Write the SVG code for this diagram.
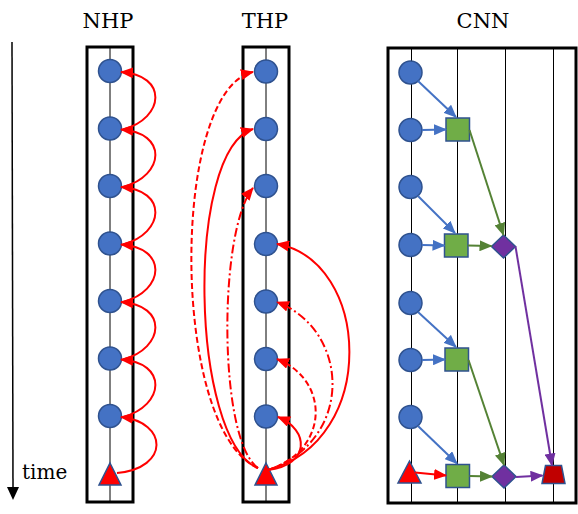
<svg xmlns="http://www.w3.org/2000/svg" width="578" height="514" viewBox="0 0 578 514">
<style>
.box{fill:none;stroke:#000;stroke-width:3}
.vl{stroke:#000;stroke-width:1;fill:none}
.node{fill:#4472C4;stroke:#2F528F;stroke-width:1.5}
.tri{fill:#FF0000;stroke:#2F528F;stroke-width:1.5}
.sq{fill:#70AD47;stroke:#2F528F;stroke-width:1.5}
.dia{fill:#7030A0;stroke:#2F528F;stroke-width:1.5}
.trap{fill:#C00000;stroke:#2F528F;stroke-width:1.5}
.r{fill:none;stroke:#FF0000;stroke-width:2;marker-end:url(#ar)}
.dash{stroke-dasharray:6,3}
.dd{stroke-dasharray:9,3,2,3}
.b{fill:none;stroke:#4472C4;stroke-width:2;marker-end:url(#ab)}
.g{fill:none;stroke:#548235;stroke-width:2;marker-end:url(#ag)}
.p{fill:none;stroke:#7030A0;stroke-width:2;marker-end:url(#ap)}
</style>
<defs>
<marker id="ar" markerUnits="userSpaceOnUse" markerWidth="13" markerHeight="11" viewBox="0 0 13 11" refX="12" refY="5.5" orient="auto"><path d="M0,0 L13,5.5 L0,11 z" fill="#FF0000"/></marker>
<marker id="ab" markerUnits="userSpaceOnUse" markerWidth="13" markerHeight="11" viewBox="0 0 13 11" refX="12" refY="5.5" orient="auto"><path d="M0,0 L13,5.5 L0,11 z" fill="#4472C4"/></marker>
<marker id="ag" markerUnits="userSpaceOnUse" markerWidth="13" markerHeight="11" viewBox="0 0 13 11" refX="12" refY="5.5" orient="auto"><path d="M0,0 L13,5.5 L0,11 z" fill="#548235"/></marker>
<marker id="ap" markerUnits="userSpaceOnUse" markerWidth="13" markerHeight="11" viewBox="0 0 13 11" refX="12" refY="5.5" orient="auto"><path d="M0,0 L13,5.5 L0,11 z" fill="#7030A0"/></marker>
</defs>

<g id="titles" font-family="'DejaVu Serif', 'Liberation Serif', serif" font-size="21" text-anchor="middle" fill="#000">
<text x="108" y="28">NHP</text>
<text x="265" y="28">THP</text>
<text x="483" y="28">CNN</text>
</g>

<g id="time-axis">
<line x1="12" y1="42" x2="13" y2="487" stroke="#000" stroke-width="1.5"/>
<path d="M7,487 L19,487 L13,500 z" fill="#000"/>
<text x="22" y="479" font-family="'DejaVu Serif', 'Liberation Serif', serif" font-size="20" fill="#000">time</text>
</g>

<g id="nhp">
<rect class="box" x="87" y="47" width="46" height="455"/>
<line class="vl" x1="110" y1="47" x2="110" y2="502"/>
<circle class="node" cx="110" cy="71" r="11.5"/>
<circle class="node" cx="110" cy="128.5" r="11.5"/>
<circle class="node" cx="110" cy="186" r="11.5"/>
<circle class="node" cx="110" cy="243.5" r="11.5"/>
<circle class="node" cx="110" cy="301" r="11.5"/>
<circle class="node" cx="110" cy="358.5" r="11.5"/>
<circle class="node" cx="110" cy="416" r="11.5"/>
<path class="tri" d="M110,463 L121,485 L99,485 z"/>
</g>

<g id="thp">
<rect class="box" x="243" y="47" width="46" height="455"/>
<line class="vl" x1="266" y1="47" x2="266" y2="502"/>
<circle class="node" cx="266" cy="71.5" r="11.5"/>
<circle class="node" cx="266" cy="129" r="11.5"/>
<circle class="node" cx="266" cy="186" r="11.5"/>
<circle class="node" cx="266" cy="244" r="11.5"/>
<circle class="node" cx="266" cy="301.5" r="11.5"/>
<circle class="node" cx="266" cy="359" r="11.5"/>
<circle class="node" cx="266" cy="416.5" r="11.5"/>
<path class="tri" d="M266,463 L277,485 L255,485 z"/>
</g>

<g id="cnn">
<rect class="box" x="388" y="48" width="188" height="455"/>
<line class="vl" x1="411.5" y1="48" x2="411.5" y2="503"/>
<line class="vl" x1="457.5" y1="48" x2="457.5" y2="503"/>
<line class="vl" x1="505.5" y1="48" x2="505.5" y2="503"/>
<line class="vl" x1="553.5" y1="48" x2="553.5" y2="503"/>
<circle class="node" cx="410.5" cy="72.5" r="11.5"/>
<circle class="node" cx="410.5" cy="130" r="11.5"/>
<circle class="node" cx="410.5" cy="187" r="11.5"/>
<circle class="node" cx="410.5" cy="245" r="11.5"/>
<circle class="node" cx="410.5" cy="303" r="11.5"/>
<circle class="node" cx="410.5" cy="360" r="11.5"/>
<circle class="node" cx="410.5" cy="417" r="11.5"/>
<path class="tri" d="M409.5,461 L421,483 L398,483 z"/>
<rect class="sq" x="446" y="118" width="23.5" height="23"/>
<rect class="sq" x="444.5" y="234" width="23.5" height="23"/>
<rect class="sq" x="445" y="348" width="23.5" height="23"/>
<rect class="sq" x="446" y="464.5" width="23.5" height="23"/>
<path class="dia" d="M503.5,235 L515.5,246.5 L503.5,258 L491.5,246.5 z"/>
<path class="dia" d="M504,465 L516,476.5 L504,488 L492,476.5 z"/>
<path class="trap" d="M545.5,465.5 L561.5,465.5 L565,483.5 L542,483.5 z"/>
</g>

<g id="connectors">
<path class="r" d="M123,129.5 C165,118 168,75 121,72"/>
<path class="r" d="M123,187 C165,175.5 168,132.5 121,129.5"/>
<path class="r" d="M123,244.5 C165,233 168,190 121,187"/>
<path class="r" d="M123,302 C165,290.5 168,247.5 121,244.5"/>
<path class="r" d="M123,359.5 C165,348 168,305 121,302"/>
<path class="r" d="M123,417 C165,405.5 168,362.5 121,359.5"/>
<path class="r" d="M117,473 C170,468 168,422 121,417"/>
<path class="r dash" d="M258,468 C170,430 170,90 253,72"/>
<path class="r" d="M258,468 C190,440 185,150 253,129"/>
<path class="r dd" d="M258,468 C218,440 218,230 253,188"/>
<path class="r" d="M268,470 C380,440 370,260 277,244"/>
<path class="r dd" d="M268,470 C355,440 350,330 277,302"/>
<path class="r dash" d="M268,470 C330,450 330,380 277,359"/>
<path class="r" d="M268,470 C310,465 310,430 278,417"/>
<path class="b" d="M418,81 L456,117"/>
<path class="b" d="M422,130 L446,129.5"/>
<path class="b" d="M418,196 L455,233"/>
<path class="b" d="M422,245 L444.5,245.5"/>
<path class="b" d="M418,312 L456,347"/>
<path class="b" d="M422,360 L445,359.5"/>
<path class="b" d="M418,426 L457,463.5"/>
<path class="r" d="M415,472.5 L446,475.5"/>
<path class="g" d="M469.5,130 L503.5,235"/>
<path class="g" d="M468,245.5 L491.5,246"/>
<path class="g" d="M468.5,360 L504,465"/>
<path class="g" d="M469.5,476 L492,476.5"/>
<path class="p" d="M515.5,246.5 L552,465.5"/>
<path class="p" d="M516,477 L542.5,475.5"/>
</g>
</svg>
